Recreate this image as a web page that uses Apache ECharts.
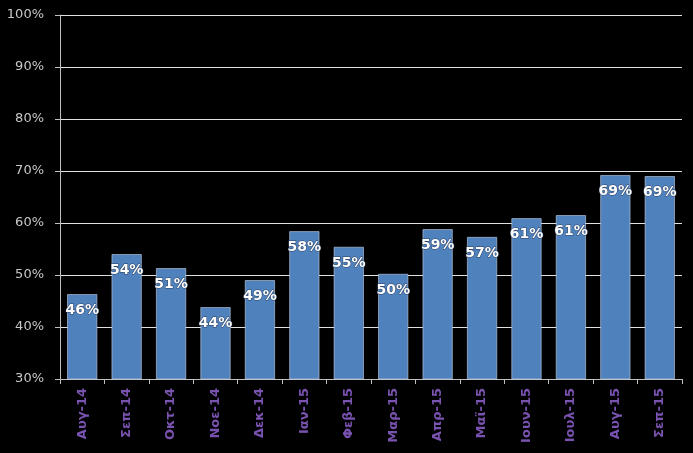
<!DOCTYPE html>
<html><head><meta charset="utf-8">
<script src="https://cdn.jsdelivr.net/npm/echarts@6/dist/echarts.min.js"></script>
<style>html,body{margin:0;padding:0;background:#000;}#c{width:693px;height:453px;}</style>
</head><body><div id="c"></div>
<script>
const categories = ["Αυγ-14","Σεπ-14","Οκτ-14","Νοε-14","Δεκ-14","Ιαν-15","Φεβ-15","Μαρ-15","Απρ-15","Μαϊ-15","Ιουν-15","Ιουλ-15","Αυγ-15","Σεπ-15"];
const values = [46.3, 54.0, 51.3, 43.8, 49.0, 58.4, 55.4, 50.2, 58.8, 57.3, 60.9, 61.5, 69.2, 69.0];
const labels = ["46%","54%","51%","44%","49%","58%","55%","50%","59%","57%","61%","61%","69%","69%"];

const chart = echarts.init(document.getElementById('c'));
chart.setOption({
  backgroundColor: '#000',
  animation: false,
  grid: {left: 60, right: 11, top: 15, bottom: 74},
  xAxis: {
    type: 'category', data: categories,
    axisLine: {lineStyle: {color: '#bfbfbf', width: 1}},
    axisTick: {show: true, alignWithLabel: false, length: 5, lineStyle: {color: '#bfbfbf'}},
    axisLabel: {rotate: 90, color: '#7a52b0', fontSize: 13, fontWeight: 'bold', fontFamily: 'DejaVu Sans', margin: 9, interval: 0}
  },
  yAxis: {
    type: 'value', min: 30, max: 100, interval: 10,
    axisLine: {show: true, lineStyle: {color: '#bfbfbf'}},
    axisTick: {show: true, length: 5, lineStyle: {color: '#bfbfbf'}},
    axisLabel: {color: '#c8c8c8', fontSize: 13, fontFamily: 'DejaVu Sans', margin: 16, formatter: v => v + '%'},
    splitLine: {lineStyle: {color: '#e0e0e0', width: 1}}
  },
  series: [{
    type: 'bar', data: values, barWidth: 30,
    itemStyle: {color: '#4f81bd', borderColor: '#c8d4e8', borderWidth: 0.6},
    label: {
      show: true, position: 'insideTop', distance: 9,
      color: '#fff', fontSize: 14, fontWeight: 'bold', fontFamily: 'DejaVu Sans',
      textBorderColor: '#2a3f5f', textBorderWidth: 1,
      formatter: p => labels[p.dataIndex]
    }
  }]
});
</script></body></html>
